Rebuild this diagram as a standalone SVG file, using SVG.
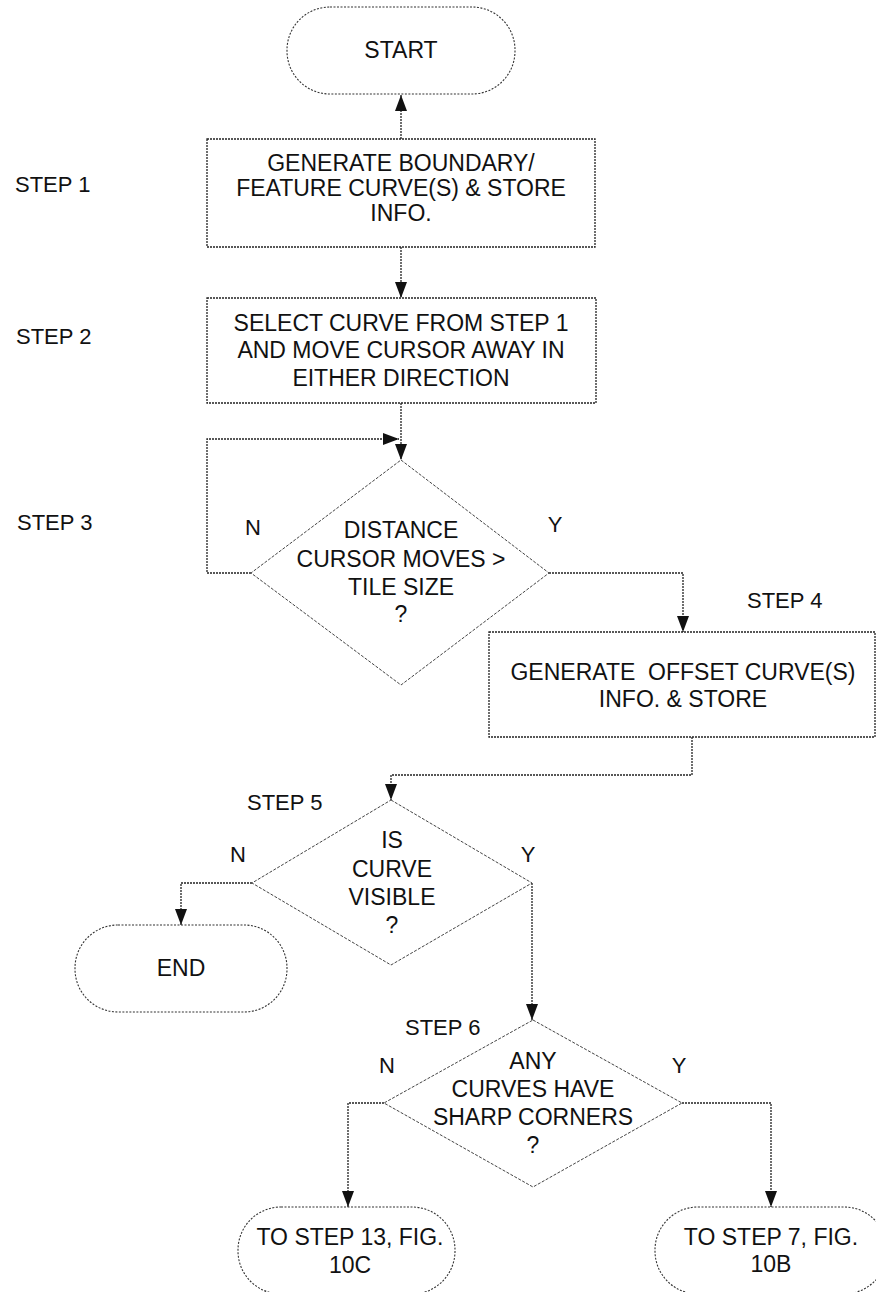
<svg xmlns="http://www.w3.org/2000/svg" width="876" height="1292" viewBox="0 0 876 1292">
<defs>
<style>
.bg{fill:#fff}
.box{fill:none;stroke:#222;stroke-width:1.3;stroke-dasharray:2 1}
.term{fill:none;stroke:#333;stroke-width:1.1;stroke-dasharray:2 1.5}
.dia{fill:none;stroke:#444;stroke-width:1;stroke-dasharray:3 1.5}
.con{fill:none;stroke:#222;stroke-width:1.3;stroke-dasharray:2 1}
.t{font-family:"Liberation Sans",Arial,sans-serif;font-size:23px;fill:#111;text-anchor:middle}
.lbl{font-family:"Liberation Sans",Arial,sans-serif;font-size:22px;fill:#111}
.yn{font-family:"Liberation Sans",Arial,sans-serif;font-size:22px;fill:#111;text-anchor:middle}
</style>
<marker id="ah2" viewBox="0 0 16 12" refX="16" refY="6" markerWidth="16" markerHeight="12" markerUnits="userSpaceOnUse" orient="auto">
<path d="M0,0 L16,6 L0,12 z" fill="#111"/>
</marker>
</defs>
<rect class="bg" x="0" y="0" width="876" height="1292"/>

<g id="labels">
<text class="lbl" x="15" y="192">STEP 1</text>
<text class="lbl" x="16" y="344">STEP 2</text>
<text class="lbl" x="17" y="530">STEP 3</text>
<text class="lbl" x="747" y="608">STEP 4</text>
<text class="lbl" x="247" y="810">STEP 5</text>
<text class="lbl" x="405" y="1035">STEP 6</text>
<text class="yn" x="253" y="535">N</text>
<text class="yn" x="555" y="532">Y</text>
<text class="yn" x="238" y="862">N</text>
<text class="yn" x="528" y="862">Y</text>
<text class="yn" x="387" y="1073">N</text>
<text class="yn" x="679" y="1073">Y</text>
</g>

<g id="connectors">
<path class="con" d="M401,139 L401,95" marker-end="url(#ah2)"/>
<path class="con" d="M401,247 L401,298" marker-end="url(#ah2)"/>
<path class="con" d="M401,403 L401,460" marker-end="url(#ah2)"/>
<path class="con" d="M251,573 L207,573 L207,439 L399,439" marker-end="url(#ah2)"/>
<path class="con" d="M549,573 L683,573 L683,632" marker-end="url(#ah2)"/>
<path class="con" d="M692,737 L692,775 L391,775 L391,800" marker-end="url(#ah2)"/>
<path class="con" d="M252,883 L181,883 L181,925" marker-end="url(#ah2)"/>
<path class="con" d="M532,883 L532,1020" marker-end="url(#ah2)"/>
<path class="con" d="M384,1103 L348,1103 L348,1207" marker-end="url(#ah2)"/>
<path class="con" d="M682,1103 L771,1103 L771,1207" marker-end="url(#ah2)"/>
</g>

<g id="start">
<rect class="term" x="287" y="7" width="228" height="87" rx="43" ry="43"/>
<text class="t" x="401" y="58">START</text>
</g>

<g id="step1">
<rect class="box" x="207" y="139" width="388" height="108"/>
<text class="t" x="401" y="171">GENERATE BOUNDARY/</text>
<text class="t" x="401" y="196">FEATURE CURVE(S) &amp; STORE</text>
<text class="t" x="401" y="221">INFO.</text>
</g>

<g id="step2">
<rect class="box" x="207" y="298" width="389" height="105"/>
<text class="t" x="401" y="331">SELECT CURVE FROM STEP 1</text>
<text class="t" x="401" y="358">AND MOVE CURSOR AWAY IN</text>
<text class="t" x="401" y="386">EITHER DIRECTION</text>
</g>

<g id="step3">
<polygon class="dia" points="401,460 549,573 401,685 251,573"/>
<text class="t" x="401" y="538">DISTANCE</text>
<text class="t" x="401" y="567">CURSOR MOVES &gt;</text>
<text class="t" x="401" y="595">TILE SIZE</text>
<text class="t" x="401" y="622">?</text>
</g>

<g id="step4">
<rect class="box" x="489" y="632" width="386" height="105"/>
<text class="t" x="683" y="680" xml:space="preserve">GENERATE  OFFSET CURVE(S)</text>
<text class="t" x="683" y="707">INFO. &amp; STORE</text>
</g>

<g id="step5">
<polygon class="dia" points="391,800 532,883 391,965 252,883"/>
<text class="t" x="392" y="848">IS</text>
<text class="t" x="392" y="877">CURVE</text>
<text class="t" x="392" y="905">VISIBLE</text>
<text class="t" x="392" y="933">?</text>
</g>

<g id="end">
<rect class="term" x="75" y="925" width="212" height="87" rx="43" ry="43"/>
<text class="t" x="181" y="976">END</text>
</g>

<g id="step6">
<polygon class="dia" points="533,1020 682,1103 533,1187 384,1103"/>
<text class="t" x="533" y="1069">ANY</text>
<text class="t" x="533" y="1097">CURVES HAVE</text>
<text class="t" x="533" y="1125">SHARP CORNERS</text>
<text class="t" x="533" y="1153">?</text>
</g>

<g id="to-step13">
<rect class="term" x="238" y="1207" width="217" height="87" rx="43" ry="43"/>
<text class="t" x="350" y="1245">TO STEP 13, FIG.</text>
<text class="t" x="350" y="1273">10C</text>
</g>

<g id="to-step7">
<rect class="term" x="655" y="1207" width="232" height="87" rx="43" ry="43"/>
<text class="t" x="771" y="1245">TO STEP 7, FIG.</text>
<text class="t" x="771" y="1272">10B</text>
</g>
</svg>
